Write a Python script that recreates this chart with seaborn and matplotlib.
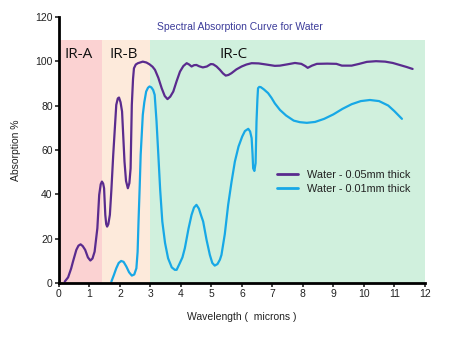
import matplotlib
matplotlib.use("Agg")
import matplotlib.pyplot as plt
import numpy as np
import pandas as pd
import seaborn as sns

# (wavelength, absorption) points, 0.05 mm water layer
thick_pts = [
    (0.19, 0.6), (0.3, 2.5), (0.4, 6.5), (0.46, 9.6), (0.57, 14.9), (0.64, 16.8),
    (0.71, 17.4), (0.78, 16.6), (0.86, 14.9), (0.95, 11.5), (1.03, 10.1), (1.1, 11),
    (1.17, 14.1), (1.26, 24.7), (1.32, 39.7), (1.37, 44.5), (1.41, 45.7), (1.45, 44.8),
    (1.48, 42.7), (1.52, 30.7), (1.55, 26.5), (1.58, 25.4), (1.62, 26.5), (1.67, 30.7),
    (1.72, 42), (1.78, 57.7), (1.88, 80.3), (1.93, 83.2), (1.97, 83.6), (2.02, 81.5),
    (2.07, 77.3), (2.11, 66), (2.15, 54.7), (2.2, 46), (2.26, 42.7), (2.31, 45),
    (2.35, 51.7), (2.39, 80.3), (2.43, 92), (2.46, 96.8), (2.52, 98.5), (2.59, 99.1),
    (2.75, 99.8), (2.87, 99.4), (2.97, 98.6), (3.07, 97.5), (3.15, 96.1), (3.26, 92.5),
    (3.37, 87.8), (3.47, 84.3), (3.56, 82.9), (3.65, 84), (3.75, 86.3), (3.86, 91),
    (3.97, 95.3), (4.08, 97.8), (4.19, 99.1), (4.27, 98.5), (4.35, 97.6), (4.43, 98.2),
    (4.51, 98.3), (4.6, 97.7), (4.72, 97.2), (4.85, 97.6), (4.98, 98.7), (5.06, 98.6),
    (5.17, 97.6), (5.28, 96.1), (5.38, 94.5), (5.47, 93.5), (5.56, 93.8), (5.66, 94.6),
    (5.82, 96.3), (5.99, 97.6), (6.15, 98.5), (6.32, 99.1), (6.55, 99), (6.75, 98.6),
    (7.08, 97.9), (7.25, 98), (7.5, 98.6), (7.74, 99.2), (7.95, 98.8), (8.08, 97.8),
    (8.16, 97), (8.3, 98), (8.46, 98.8), (8.8, 98.9), (9.1, 98.8), (9.28, 98),
    (9.6, 98), (9.85, 98.8), (10.1, 99.7), (10.4, 100), (10.7, 99.8), (10.95, 99.2),
    (11.2, 98.2), (11.4, 97.4), (11.6, 96.5),
]

# 0.01 mm water layer
thin_pts = [
    (1.72, 0.6), (1.8, 3.5), (1.88, 6.6), (1.96, 9), (2.04, 9.9), (2.12, 9.5),
    (2.21, 7.4), (2.3, 4.8), (2.39, 3.3), (2.47, 3.8), (2.54, 6.6), (2.58, 14),
    (2.61, 27.7), (2.65, 44), (2.68, 57.7), (2.72, 68), (2.75, 75.8), (2.8, 81.5),
    (2.86, 86.3), (2.92, 88), (2.97, 88.6), (3.03, 88.2), (3.09, 87), (3.14, 84.8),
    (3.2, 73), (3.26, 57.7), (3.32, 42), (3.39, 27.7), (3.48, 18), (3.58, 11.1),
    (3.7, 7), (3.8, 5.9), (3.86, 5.9), (3.95, 8.5), (4.05, 11.5), (4.13, 15.7),
    (4.25, 24.5), (4.35, 30.7), (4.43, 34), (4.51, 35.2), (4.59, 33.5), (4.66, 30.5),
    (4.73, 27.7), (4.84, 19.5), (4.95, 12.6), (5.03, 9), (5.11, 7.8), (5.2, 8.5),
    (5.28, 10.5), (5.33, 12.6), (5.44, 22), (5.55, 35.2), (5.66, 45.5), (5.77, 54.7),
    (5.89, 61.5), (6.01, 66), (6.1, 68.5), (6.21, 69.5), (6.27, 68.3), (6.32, 65.3),
    (6.35, 58), (6.37, 51.7), (6.41, 50.5), (6.45, 54), (6.48, 72.8), (6.51, 83),
    (6.53, 87.8), (6.57, 88.4), (6.62, 88.3), (6.72, 87.3), (6.86, 85.6), (6.97, 83.5),
    (7.08, 81), (7.25, 78), (7.45, 75.5), (7.7, 73.2), (7.9, 72.5), (8.13, 72.2),
    (8.4, 72.6), (8.7, 74), (9.0, 76), (9.3, 78.5), (9.6, 80.6), (9.9, 82),
    (10.2, 82.5), (10.5, 82), (10.8, 80), (11.0, 77.5), (11.25, 74),
]

series_names = ["Water - 0.05mm thick", "Water - 0.01mm thick"]
bands = [("IR-A", 0, 1.4), ("IR-B", 1.4, 3.0), ("IR-C", 3.0, 12.0)]

frames = []
for name, pts in zip(series_names, [thick_pts, thin_pts]):
    xs, ys = zip(*pts)
    frames.append(pd.DataFrame({"x": xs, "y": ys, "series": name}))
df = pd.concat(frames)

sns.set_style("ticks")
plt.rcParams["font.family"] = ["Liberation Sans", "DejaVu Sans"]

fig = plt.figure(figsize=(4.5, 3.51), dpi=100)
ax = fig.add_axes([0.131, 0.194, 0.813, 0.758])

band_colors = ["#fbd2d2", "#fdeadb", "#d0f0dd"]
band_label_x = [0.17, 1.67, 5.28]
for (name, lo, hi), c, lx in zip(bands, band_colors, band_label_x):
    ax.axvspan(lo, hi, ymin=0, ymax=109.5 / 120, color=c, lw=0, zorder=0)
    ax.text(lx, 103, name, fontsize=11, family=["Open Sans", "DejaVu Sans"],
            color="#111111", va="center", ha="left", zorder=3)

sns.lineplot(data=df, x="x", y="y", hue="series", sort=False, estimator=None,
             palette=["#5a2b8e", "#17a8e6"], linewidth=1.6, ax=ax, legend=False,
             zorder=2)

ax.set_xlim(0, 12)
ax.set_ylim(0, 120)
ax.set_xticks(range(0, 13))
ax.set_yticks(range(0, 121, 20))
ax.tick_params(labelsize=7.5, length=3, width=1.2, colors="#222222", pad=1.5)
for s in ["top", "right"]:
    ax.spines[s].set_visible(False)
for s in ["left", "bottom"]:
    ax.spines[s].set_linewidth(2)
    ax.spines[s].set_color("black")

ax.set_xlabel("Wavelength (  microns )", fontsize=7.5, color="#222222", labelpad=9)
ax.set_ylabel("Absorption %", fontsize=7.5, color="#222222", labelpad=10)
ax.text(5.95, 115.5, "Spectral Absorption Curve for Water", ha="center", va="center",
        fontsize=7.5, color="#3c3c9a")

handles = [plt.Line2D([], [], color="#5a2b8e", lw=2),
           plt.Line2D([], [], color="#17a8e6", lw=2)]
ax.legend(handles, series_names, frameon=False, fontsize=7.8, loc="upper left",
          bbox_to_anchor=(0.568, 0.462), handlelength=2.0, handletextpad=0.8,
          labelspacing=0.4, labelcolor="#222222")

fig.savefig("out.png", dpi=100)
